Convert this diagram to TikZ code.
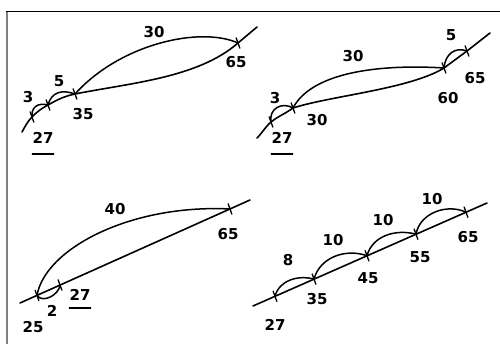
\documentclass[tikz,border=0pt]{standalone}
\usepackage{fontspec}
\setmainfont{DejaVu Sans}

\begin{document}
\begin{tikzpicture}[x=1pt, y=1pt,
  numline/.style={line width=1.6pt, line cap=round},
  jump/.style={line width=1.5pt, line cap=round},
  tk/.style={draw, line width=1.3pt, line join=round, minimum width=0pt, minimum height=11pt, inner sep=0pt, rotate=20},
  num/.style={font=\fontsize{15}{18}\selectfont\bfseries, inner sep=0pt},
  uline/.style={line width=1.5pt, line cap=round}
]
  \useasboundingbox (0,0) rectangle (500,344);
  \draw[gray, line width=2pt] (7,0) -- (7,333);
  \draw[line width=0.9pt] (6,333) -- (500,333);

  % 27 + 3 + 5 + 30
  \coordinate (s1) at (22,212);
  \coordinate (e1) at (257,317);
  \node[tk] (a27) at (32,227) {};
  \node[tk] (a30) at (48,239) {};
  \node[tk] (a35) at (75,250) {};
  \node[tk] (a65) at (238,301) {};
  \draw[numline] (s1) to[out=60,in=226] (a27.center) to[out=46,in=209] (a30.center)
    to[out=29,in=192] (a35.center) .. controls (130,261) and (198,266) .. (a65.center) -- (e1);
  \draw[jump] (a27.center) to[out=95,in=165,looseness=1.3] (a30.center);
  \draw[jump] (a30.center) to[out=75,in=160,looseness=1.2] (a35.center);
  \draw[jump] (a35.center) .. controls (120,300) and (200,318) .. (a65.center);
  \node[num] (j13) at (28,247) {3};
  \node[num] (j15) at (59,263) {5};
  \node[num] (j130) at (154,312) {30};
  \node[num] (l127) at (43,206) {27};
  \node[num] (l135) at (83,230) {35};
  \node[num] (l165) at (236,282) {65};
  \draw[uline] ([yshift=-10pt]l127.south west) -- ([yshift=-10pt]l127.south east);

  % 27 + 3 + 30 + 5
  \coordinate (s2) at (257,206);
  \coordinate (e2) at (490,311);
  \node[tk] (b27) at (271,222) {};
  \node[tk] (b30) at (293,236) {};
  \node[tk] (b60) at (444,276) {};
  \node[tk] (b65) at (467,293) {};
  \draw[numline] (s2) to[out=45,in=221] (b27.center) to[out=38,in=216] (b30.center)
    .. controls (330,248) and (410,255) .. (b60.center) -- (b65.center) -- (e2);
  \draw[jump] (b27.center) to[out=100,in=150,looseness=1.3] (b30.center);
  \draw[jump] (b30.center) .. controls (312,272) and (380,280) .. (b60.center);
  \draw[jump] (b60.center) to[out=85,in=160,looseness=1.2] (b65.center);
  \node[num] (j23) at (275,246) {3};
  \node[num] (j230) at (353,288) {30};
  \node[num] (j25) at (451,309) {5};
  \node[num] (l227) at (282,206) {27};
  \node[num] (l230) at (317,224) {30};
  \node[num] (l260) at (448,246) {60};
  \node[num] (l265) at (475,266) {65};
  \draw[uline] ([yshift=-10pt]l227.south west) -- ([yshift=-10pt]l227.south east);

  % 25 + 40, 27 - 2
  \coordinate (s3) at (20,41);
  \coordinate (e3) at (250,144);
  \node[tk] (c25) at (37,48.5) {};
  \node[tk] (c27) at (60,59) {};
  \node[tk] (c65) at (230,135) {};
  \draw[numline] (s3) -- (e3);
  \draw[jump] (c25.center) .. controls (45,95) and (130,140) .. (c65.center);
  \draw[jump] (c25.center) to[out=-55,in=-95] (c27.center);
  \node[num] (j340) at (115,135) {40};
  \node[num] (j32) at (52,33) {2};
  \node[num] (l325) at (33,17) {25};
  \node[num] (l327) at (80,49) {27};
  \node[num] (l365) at (228,110) {65};
  \draw[uline] ([yshift=-7pt]l327.south west) -- ([yshift=-7pt]l327.south east);

  % 27 + 8 + 10 + 10 + 10
  \coordinate (s4) at (253,38);
  \coordinate (e4) at (487,141);
  \node[tk] (d27) at (275,47.7) {};
  \node[tk] (d35) at (314,64.9) {};
  \node[tk] (d45) at (367,88.2) {};
  \node[tk] (d55) at (416,109.8) {};
  \node[tk] (d65) at (466,131.8) {};
  \draw[numline] (s4) -- (e4);
  \draw[jump] (d27.center) to[out=75,in=165] (d35.center);
  \draw[jump] (d35.center) to[out=75,in=160] (d45.center);
  \draw[jump] (d45.center) to[out=75,in=165] (d55.center);
  \draw[jump] (d55.center) to[out=80,in=155] (d65.center);
  \node[num] (j48) at (288,84) {8};
  \node[num] (j410a) at (333,104) {10};
  \node[num] (j410b) at (383,124) {10};
  \node[num] (j410c) at (432,145) {10};
  \node[num] (l427) at (275,19) {27};
  \node[num] (l435) at (317,45) {35};
  \node[num] (l445) at (368,66) {45};
  \node[num] (l455) at (420,87) {55};
  \node[num] (l465) at (468,107) {65};
\end{tikzpicture}
\end{document}
